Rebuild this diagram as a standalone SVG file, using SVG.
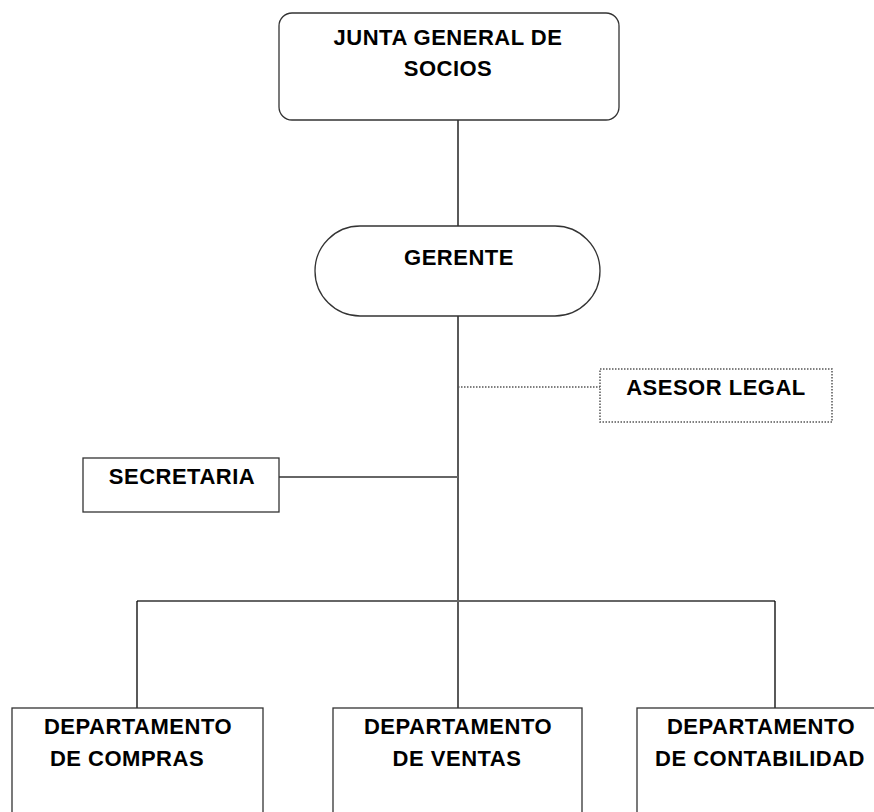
<svg xmlns="http://www.w3.org/2000/svg" width="874" height="812" viewBox="0 0 874 812">
<style>
.box{fill:#fff;stroke:#333;stroke-width:1.3}
.dot{fill:#fff;stroke:#555;stroke-width:1.5;stroke-dasharray:1.5 1.5}
.t{font-family:"Liberation Sans",Arial,sans-serif;font-weight:bold;font-size:22px;letter-spacing:0.5px;fill:#000;text-anchor:middle}
.c{stroke:#000;stroke-width:1.3;fill:none}
.g{stroke:#666;stroke-width:2;fill:none}
.d{stroke:#555;stroke-width:1.5;stroke-dasharray:1.5 1.5;fill:none}
</style>
<rect width="874" height="812" fill="#fff"/>
<g id="connectors">
<line class="c" x1="458" y1="120" x2="458" y2="226"/>
<line class="c" x1="458" y1="316" x2="458" y2="708"/>
<line class="d" x1="458" y1="387" x2="600" y2="387"/>
<line class="g" x1="279" y1="477" x2="458" y2="477"/>
<line class="g" x1="137" y1="601" x2="775" y2="601"/>
<line class="c" x1="137" y1="601" x2="137" y2="708"/>
<line class="c" x1="775" y1="601" x2="775" y2="708"/>
</g>
<g id="junta">
<rect class="box" x="279" y="13" width="340" height="107" rx="13"/>
<text class="t" x="448" y="45">JUNTA GENERAL DE</text>
<text class="t" x="448" y="76">SOCIOS</text>
</g>
<g id="gerente">
<rect class="box" x="315" y="226" width="285" height="90" rx="45"/>
<text class="t" x="459" y="265">GERENTE</text>
</g>
<g id="asesor">
<rect class="dot" x="600" y="369" width="232" height="53"/>
<text class="t" x="716" y="395">ASESOR LEGAL</text>
</g>
<g id="secretaria">
<rect class="box" x="83" y="458" width="196" height="54"/>
<text class="t" x="182" y="484">SECRETARIA</text>
</g>
<g id="compras">
<rect class="box" x="12" y="708" width="251" height="120"/>
<text class="t" x="138" y="734">DEPARTAMENTO</text>
<text class="t" x="127" y="766">DE COMPRAS</text>
</g>
<g id="ventas">
<rect class="box" x="333" y="708" width="249" height="120"/>
<text class="t" x="458" y="734">DEPARTAMENTO</text>
<text class="t" x="457" y="766">DE VENTAS</text>
</g>
<g id="contabilidad">
<rect class="box" x="637" y="708" width="250" height="120"/>
<text class="t" x="761" y="734">DEPARTAMENTO</text>
<text class="t" x="760" y="766">DE CONTABILIDAD</text>
</g>
</svg>
